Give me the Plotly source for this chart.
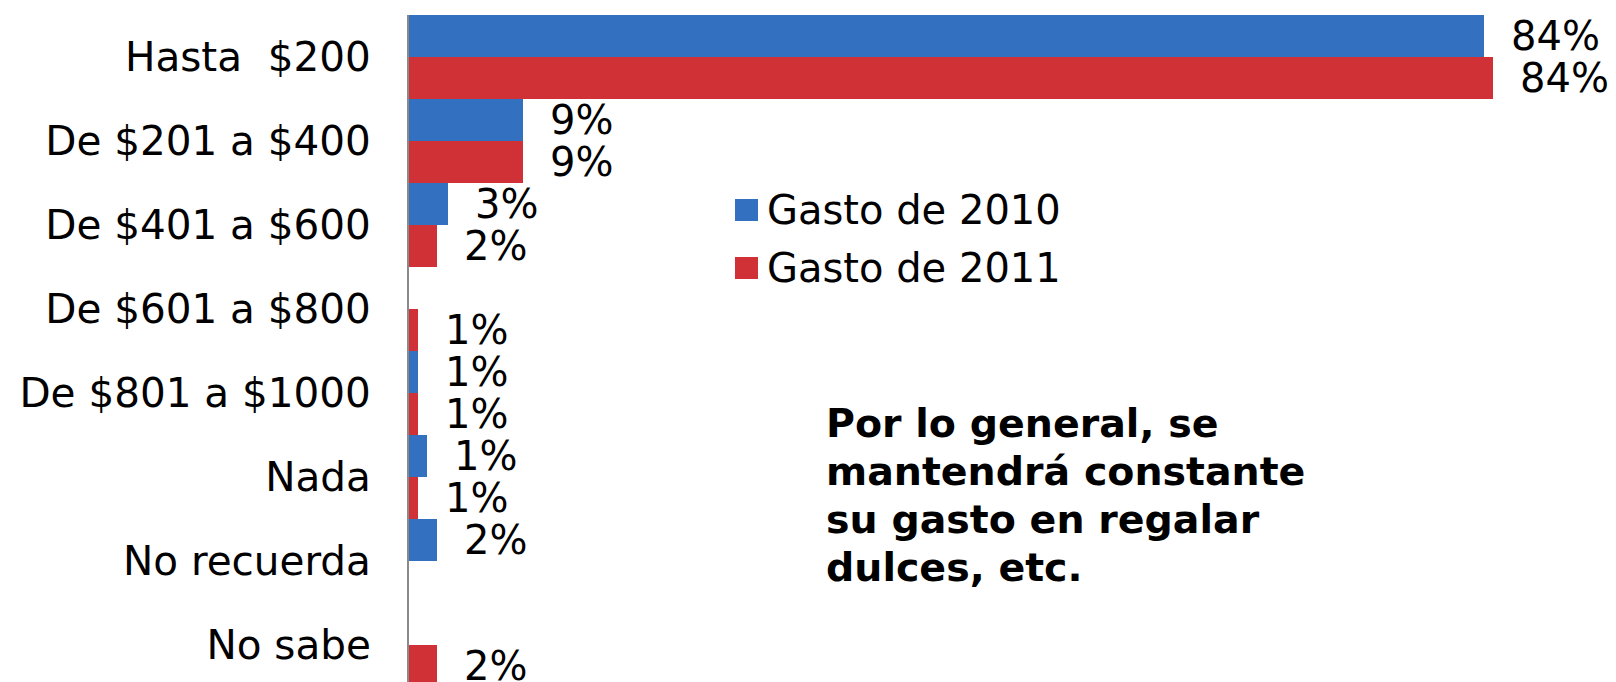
import plotly.graph_objects as go

categories = ["Hasta  $200", "De $201 a $400", "De $401 a $600", "De $601 a $800",
              "De $801 a $1000", "Nada", "No recuerda", "No sabe"]
gasto_2010 = [83.7, 8.9, 3.0, None, 0.7, 1.4, 2.2, None]
gasto_2011 = [84.4, 8.9, 2.2, 0.7, 0.7, 0.7, None, 2.2]
series_names = ["Gasto de 2010", "Gasto de 2011"]
colors = ["#3370c0", "#cf3137"]
note_lines = ["Por lo general, se", "mantendrá constante", "su gasto en regalar", "dulces, etc."]

# page body has an 8px margin; figure sized so it ends at the window edge
OFF = 8
W, H = 1616 - OFF, 682 - OFF
ML, MR, MT, MB = 409 - OFF, 0, 15 - OFF, 0
FONT = "DejaVu Sans"

def px_x(p):
    return (p - OFF - ML) / (W - ML - MR)

def px_y(p):
    return (H - MB - (p - OFF)) / (H - MT - MB)

fig = go.Figure()
for name, vals, col in zip(series_names, [gasto_2010, gasto_2011], colors):
    fig.add_trace(go.Bar(y=categories, x=vals, orientation="h", name=name,
                         marker=dict(color=col, line=dict(width=0)), showlegend=False))

annotations = []
for k, vals in enumerate([gasto_2010, gasto_2011]):
    off = -0.25 if k == 0 else 0.25
    for i, v in enumerate(vals):
        if v is None:
            continue
        annotations.append(dict(x=v, y=i + off, xref="x", yref="y", text=f"{round(v)}%",
                                showarrow=False, xanchor="left", yanchor="middle", xshift=25,
                                font=dict(family=FONT, size=40, color="black")))

shapes = []
leg_y = [210, 268]
for name, col, cy in zip(series_names, colors, leg_y):
    shapes.append(dict(type="rect", xref="paper", yref="paper",
                       x0=px_x(735), x1=px_x(758), y0=px_y(cy - 11), y1=px_y(cy + 11),
                       fillcolor=col, line=dict(width=0)))
    annotations.append(dict(x=px_x(765), y=px_y(cy), xref="paper", yref="paper", text=name,
                            showarrow=False, xanchor="left", yanchor="middle",
                            font=dict(family=FONT, size=40, color="black")))

for j, line in enumerate(note_lines):
    annotations.append(dict(x=px_x(824), y=px_y(423 + 48 * j), xref="paper", yref="paper",
                            text=f"<b>{line}</b>",
                            showarrow=False, xanchor="left", yanchor="middle", align="left",
                            font=dict(family=FONT, size=39.5, color="black")))

fig.update_layout(
    width=W, height=H, margin=dict(l=ML, r=MR, t=MT, b=MB, autoexpand=False),
    barmode="group", bargap=0, bargroupgap=0,
    paper_bgcolor="white", plot_bgcolor="white",
    xaxis=dict(range=[0, 94], showgrid=False, zeroline=False, showticklabels=False,
               showline=False, ticks="", automargin=False),
    yaxis=dict(type="category", categoryorder="array", categoryarray=categories,
               range=[7.44, -0.5], showgrid=False, zeroline=False, ticks="",
               showline=True, linecolor="#8a8a8a", linewidth=2, automargin=False,
               ticklabelstandoff=28,
               tickfont=dict(family=FONT, size=40.5, color="black")),
    annotations=annotations, shapes=shapes,
)

fig.write_html("out.html")
